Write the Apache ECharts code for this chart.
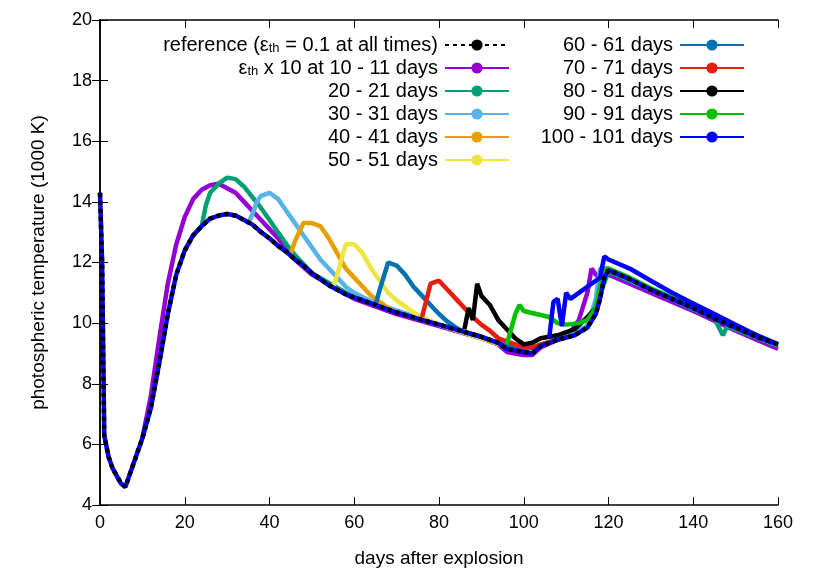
<!DOCTYPE html>
<html><head><meta charset="utf-8">
<script src="https://cdn.jsdelivr.net/npm/echarts@6/dist/echarts.min.js"></script>
<style>html,body{margin:0;padding:0;background:#fff}#c{width:830px;height:581px}</style>
</head><body><div id="c"></div>
<script>
const xTicks=[0,20,40,60,80,100,120,140,160];
const yTicks=[4,6,8,10,12,14,16,18,20];
const names=['reference','10','20','30','40','50','60','70','80','90','100'];
const labels={reference:'reference ({e|ε}{s|th} = 0.1 at all times)','10':'{e|ε}{s|th} x 10 at 10 - 11 days','20':'20 - 21 days','30':'30 - 31 days','40':'40 - 41 days','50':'50 - 51 days','60':'60 - 61 days','70':'70 - 71 days','80':'80 - 81 days','90':'90 - 91 days','100':'100 - 101 days'};
const colors=['#000000','#9400d3','#009e73','#56b4e9','#e69f00','#f0e442','#0072b2','#e51e10','#000000','#00c000','#0000ff'];
const baseline=[[0,14.3],[0.5,12],[1,6.3],[2,5.6],[3,5.2],[5,4.7],[6,4.6],[8,5.4],[10,6.2],[12,7.2],[14,8.7],[16,10.3],[18,11.6],[20,12.4],[22,12.9],[24,13.2],[26,13.45],[28,13.55],[30,13.6],[32,13.55],[34,13.4],[36,13.25],[38,13.0],[40,12.8],[42,12.55],[44,12.35],[46,12.1],[48,11.9],[50,11.65],[52,11.45],[54,11.25],[56,11.1],[58,10.95],[60,10.85],[65,10.6],[70,10.35],[75,10.15],[80,9.95],[85,9.75],[90,9.55],[94,9.35],[96,9.15],[100,9.05],[102,9.0],[104,9.25],[108,9.45],[112,9.6],[115,9.85],[117,10.3],[118,10.8],[119,11.5],[120,11.75],[125,11.45],[130,11.1],[135,10.8],[140,10.5],[145,10.15],[150,9.85],[155,9.55],[160,9.3]];
const s10=[[10,6.2],[12,7.6],[14,9.5],[16,11.3],[18,12.6],[20,13.5],[22,14.1],[24,14.4],[26,14.55],[28,14.6],[30,14.45],[32,14.3],[34,14.0],[36,13.7],[38,13.4],[40,13.1],[42,12.8],[44,12.45],[46,12.1],[50,11.6],[60,10.8],[70,10.3],[80,9.9],[90,9.5],[94,9.3],[96,9.05],[100,8.95],[102,8.95],[104,9.2],[108,9.45],[111,9.7],[113,10.1],[115,11.0],[116,11.8],[117,11.6],[118,11.5],[120,11.6],[125,11.3],[130,11.0],[140,10.4],[150,9.75],[160,9.15]];
const s20=[[24,13.2],[25,13.9],[26,14.3],[28,14.6],[30,14.8],[32,14.75],[34,14.5],[36,14.15],[38,13.8],[40,13.4],[42,13.0],[44,12.6],[46,12.25],[48,11.95],[50,11.65],[60,10.85],[80,9.95],[100,9.05],[104,9.25],[115,9.85],[120,11.7],[130,11.1],[145,10.15],[147,9.6],[148,9.9],[160,9.25]];
const s30=[[35,13.3],[36,13.6],[37,14.0],[38,14.2],[40,14.3],[42,14.1],[44,13.7],[46,13.3],[48,12.9],[50,12.5],[52,12.1],[54,11.8],[56,11.5],[58,11.2],[60,11.0],[65,10.65],[80,9.95],[100,9.05],[104,9.25],[115,9.9],[117,10.8],[118,11.8],[120,11.75],[130,11.1],[160,9.3]];
const s40=[[45,12.3],[46,12.7],[48,13.3],[50,13.3],[52,13.2],[54,12.8],[56,12.3],[58,11.8],[60,11.5],[62,11.2],[64,10.9],[66,10.7],[68,10.5],[70,10.35],[80,9.95],[100,9.05]];
const s50=[[55,11.2],[56,11.6],[58,12.6],[60,12.6],[62,12.3],[64,11.8],[66,11.4],[68,11.0],[70,10.75],[72,10.55],[74,10.35],[76,10.2],[80,9.95],[100,9.05]];
const s60=[[65,10.6],[66,11.1],[68,12.0],[70,11.9],[72,11.6],[74,11.2],[76,10.9],[78,10.6],[80,10.3],[82,10.05],[84,9.85],[86,9.7],[90,9.55],[100,9.05]];
const s70=[[76,10.2],[78,11.3],[80,11.4],[82,11.1],[84,10.8],[86,10.5],[88,10.2],[90,9.95],[92,9.75],[94,9.5],[96,9.4],[100,9.2],[102,9.2],[104,9.3],[108,9.45]];
const s80=[[86,9.8],[87,10.5],[88,10.1],[89,11.3],[90,10.9],[92,10.6],[94,10.1],[96,9.8],[98,9.5],[100,9.3],[102,9.35],[104,9.5],[108,9.6],[112,9.8],[115,10.2],[117,10.5]];
const s90=[[96,9.3],[98,10.3],[99,10.6],[100,10.4],[103,10.3],[106,10.2],[108,10.0],[110,9.95],[113,10.0],[115,10.1],[117,10.5],[118,11.2],[119,11.8],[120,11.8],[125,11.5],[130,11.15],[140,10.55],[150,9.9],[160,9.3]];
const s100=[[106,9.5],[107,10.7],[108,10.8],[109,9.9],[110,11.0],[111,10.8],[113,11.0],[116,11.3],[118,11.5],[119,12.2],[120,12.1],[125,11.8],[130,11.4],[135,11.0],[140,10.65],[145,10.3],[150,9.95],[155,9.6],[160,9.3]];
const seriesData=[baseline,s10,s20,s30,s40,s50,s60,s70,s80,s90,s100];

const chart=echarts.init(document.getElementById('c'));
const series=[];
series.push({type:'line',data:baseline,symbol:'none',silent:true,lineStyle:{color:'#0000ff',width:4.5},z:5,name:'_under'});
names.forEach((n,i)=>{
  if(i===0)return;
  series.push({name:n,type:'line',data:seriesData[i],symbol:'none',lineStyle:{color:colors[i],width:4.5},itemStyle:{color:colors[i]},z:3});
});
series.push({name:'reference',type:'line',data:baseline,symbol:'none',lineStyle:{color:'#000',width:4.5,type:[4,4]},itemStyle:{color:'#000'},z:10});
const FF='Liberation Sans';
const rich={e:{fontSize:20,fontFamily:FF,color:'#000'},s:{fontSize:13,fontFamily:FF,verticalAlign:'bottom',padding:[9,0,0,0],color:'#000'}};
const legBase={orient:'vertical',align:'right',itemWidth:64,itemHeight:14,itemGap:3,
  formatter:n=>labels[n],textStyle:{fontSize:20,lineHeight:20,fontFamily:FF,color:'#000',rich:rich,width:340,align:'right',padding:[0,2,0,0]}};
const axCommon={min:0,axisLine:{lineStyle:{color:'#000',width:1.5}},axisTick:{inside:true,length:8,lineStyle:{color:'#000'}},splitLine:{show:false}};
chart.setOption({
  animation:false,
  grid:{left:100,right:52,top:20,bottom:76},
  legend:[
    Object.assign({},legBase,{data:['reference','10','20','30','40','50'],right:315,top:30}),
    Object.assign({},legBase,{data:['60','70','80','90','100'],right:80,top:30,textStyle:Object.assign({},legBase.textStyle,{width:160})})
  ],
  xAxis:[Object.assign({},axCommon,{type:'value',max:160,interval:20,name:'days after explosion',nameLocation:'middle',nameGap:44,nameTextStyle:{fontSize:19,fontFamily:FF,color:'#000'},axisLabel:{fontSize:18,fontFamily:FF,color:'#000',margin:9}}),
    Object.assign({},axCommon,{type:'value',max:160,interval:20,position:'top',axisLabel:{show:false}})],
  yAxis:[Object.assign({},axCommon,{type:'value',min:4,max:20,interval:2,name:'photospheric temperature (1000 K)',nameLocation:'middle',nameGap:52,nameTextStyle:{fontSize:19,fontFamily:FF,color:'#000'},axisLabel:{fontSize:18,fontFamily:FF,color:'#000'}}),
    Object.assign({},axCommon,{type:'value',min:4,max:20,interval:2,position:'right',axisLabel:{show:false}})],
  series:series
});
</script></body></html>
